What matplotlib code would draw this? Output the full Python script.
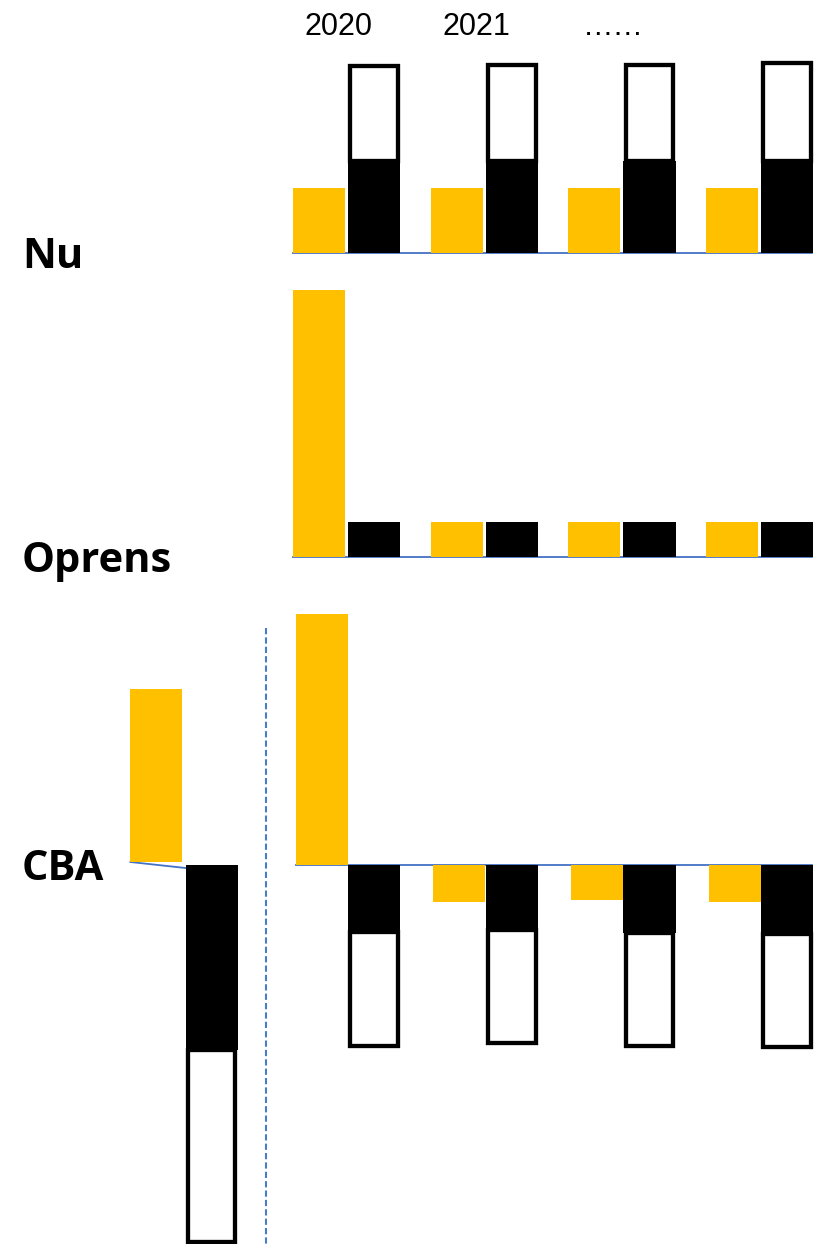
#!/usr/bin/env python3
"""Nu / Oprens / CBA stacked bar sketch."""
import matplotlib

matplotlib.use("Agg")
import matplotlib.pyplot as plt  # noqa: E402
import numpy as np  # noqa: E402

W, H = 816, 1244
PX_PER_UNIT = 10.0
# data x = group index; maps to the pixel columns of the figure
X_LEFT, X_RIGHT = -2.516, 3.409

YELLOW = "#FFC000"
BLACK = "#000000"
LINE_BLUE = "#4472C4"

GROUPS = np.arange(4)
YEAR_LABELS = ["2020", "2021", "……"]
ROW_LABELS = ["Nu", "Oprens", "CBA"]

# Nu
NU_YELLOW = [6.5, 6.5, 6.5, 6.5]
NU_BLACK = [9.2, 9.2, 9.2, 9.2]
NU_TOTAL = [18.7, 18.8, 18.8, 19.0]

# Oprens
OP_YELLOW = [26.7, 3.5, 3.5, 3.5]
OP_BLACK = [3.5, 3.5, 3.5, 3.5]

# CBA (right part, negative = below the line)
CBA_YELLOW = [25.1, -3.7, -3.5, -3.7]
CBA_BLACK = [-6.7, -6.5, -6.8, -6.9]
CBA_TOTAL = [-18.1, -17.8, -18.1, -18.2]

# CBA (left, single group)
CBA_LEFT_GROUP = -1.18
CBA_LEFT_YELLOW = 17.6
CBA_LEFT_BLACK = -18.5
CBA_LEFT_TOTAL = -37.7

OFFSET = 0.2
SOLID_W = 0.378
BOX_W = 0.345
BOX_LW = 3.1


def panel_axes(fig, top, bottom, baseline):
    ax = fig.add_axes([0, 1 - bottom / H, 1, (bottom - top) / H])
    ax.set_xlim(X_LEFT, X_RIGHT)
    ax.set_ylim(-(bottom - baseline) / PX_PER_UNIT, (baseline - top) / PX_PER_UNIT)
    ax.axis("off")
    return ax


def draw_stack(ax, x, solid, total):
    solid = np.asarray(solid)
    total = np.asarray(total)
    ax.bar(x, total - solid, bottom=solid, width=BOX_W, color="white",
           edgecolor=BLACK, linewidth=BOX_LW, zorder=2)
    ax.bar(x, solid, width=SOLID_W, color=BLACK, zorder=3)


def baseline(ax, x0, x1):
    ax.plot([x0, x1], [0, 0], color=LINE_BLUE, lw=1.3, zorder=1)


def main():
    plt.rcParams["font.family"] = ["Liberation Sans", "DejaVu Sans"]
    fig = plt.figure(figsize=(W / 100, H / 100), dpi=100)

    # --- Nu ---
    ax = panel_axes(fig, 0, 262, 253)
    ax.bar(GROUPS - OFFSET, NU_YELLOW, width=SOLID_W, color=YELLOW, zorder=3)
    draw_stack(ax, GROUPS + OFFSET, NU_BLACK, NU_TOTAL)
    baseline(ax, GROUPS[0] - OFFSET - SOLID_W / 2, GROUPS[-1] + OFFSET + SOLID_W / 2 - 0.01)
    for g, lab in zip(GROUPS, YEAR_LABELS):
        ax.text(g - 0.06, 22.6, lab, ha="center", va="center", fontsize=22)

    # --- Oprens ---
    ax = panel_axes(fig, 270, 570, 557)
    ax.bar(GROUPS - OFFSET, OP_YELLOW, width=SOLID_W, color=YELLOW, zorder=3)
    ax.bar(GROUPS + OFFSET, OP_BLACK, width=SOLID_W, color=BLACK, zorder=3)
    baseline(ax, GROUPS[0] - OFFSET - SOLID_W / 2, GROUPS[-1] + OFFSET + SOLID_W / 2 - 0.01)

    # --- CBA ---
    ax = panel_axes(fig, 590, H, 865)
    ax.bar(GROUPS - OFFSET + 0.02, CBA_YELLOW, width=SOLID_W, color=YELLOW, zorder=3)
    draw_stack(ax, GROUPS + OFFSET, CBA_BLACK, CBA_TOTAL)
    baseline(ax, GROUPS[0] - OFFSET + 0.02 - SOLID_W / 2, GROUPS[-1] + OFFSET + SOLID_W / 2 - 0.01)

    ax.bar(CBA_LEFT_GROUP - OFFSET, CBA_LEFT_YELLOW - 0.3, bottom=0.3,
           width=SOLID_W, color=YELLOW, zorder=3)
    draw_stack(ax, [CBA_LEFT_GROUP + OFFSET], [CBA_LEFT_BLACK], [CBA_LEFT_TOTAL])
    ax.plot([CBA_LEFT_GROUP - OFFSET - SOLID_W / 2, CBA_LEFT_GROUP + OFFSET - SOLID_W / 2],
            [0.3, -0.3], color=LINE_BLUE, lw=1.3, zorder=1)

    sep_x = -0.585
    ax.plot([sep_x, sep_x], [23.7, ax.get_ylim()[0]], color="#4A7EC4", lw=1.5,
            dashes=(3.0, 1.5), zorder=1)

    # row labels
    for lab, y_px in zip(ROW_LABELS, [268, 572, 880]):
        fig.text(22 / W, 1 - y_px / H, lab, ha="left", va="baseline",
                 fontsize=30, fontweight="bold", family=["Open Sans", "DejaVu Sans"])

    fig.savefig("out.png", dpi=100)
    plt.close(fig)


if __name__ == "__main__":
    main()
